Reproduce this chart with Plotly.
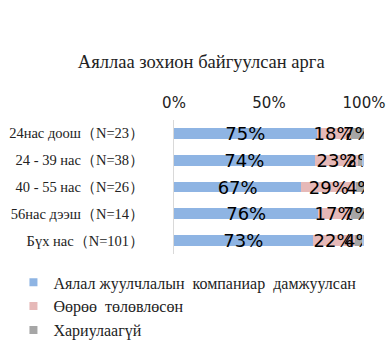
import plotly.graph_objects as go

# Age groups (top to bottom) and shares per answer
categories = ["24нас доош（N=23）", "24 - 39 нас（N=38）", "40 - 55 нас（N=26）",
              "56нас дээш（N=14）", "Бүх нас（N=101）"]
agency = [75, 74, 67, 76, 73]
self_planned = [18, 23, 29, 17, 22]
no_answer = [7, 2, 4, 7, 4]
other = [0, 1, 0.5, 0, 1]

series_names = ["Аялал жуулчлалын  компаниар  дамжуулсан", "Өөрөө  төлөвлөсөн", "Хариулаагүй"]
tick_vals = [0, 0.5, 1]
tick_text = ["0%", "50%", "100%"]

colors = ["#8EB4E3", "#E6B9B8", "#A6A6A6"]
SERIF = "Liberation Serif, Times New Roman, DejaVu Serif, serif"

fig = go.Figure()
for name, vals, col in zip(series_names, [agency, self_planned, no_answer], colors):
    fig.add_trace(go.Bar(
        y=categories, x=[v / 100 for v in vals], orientation="h", name=name,
        marker=dict(color=col, line=dict(width=0)),
        text=[f"{v}%" for v in vals], textposition="inside",
        insidetextanchor="middle", textangle=0,
        insidetextfont=dict(family="DejaVu Sans", size=18, color="black"),
        showlegend=False,
    ))
fig.add_trace(go.Bar(
    y=categories, x=[v / 100 for v in other], orientation="h",
    marker=dict(color="#A9C4E8", line=dict(width=0)),
    showlegend=False, hoverinfo="skip",
))
# Legend entries with small square keys
for name, col in zip(series_names, colors):
    fig.add_trace(go.Scatter(
        x=[None], y=[None], mode="markers", name=name,
        marker=dict(symbol="square", size=8, color=col),
    ))

fig.update_layout(
    barmode="stack", bargap=0.6,
    width=387, height=340,
    margin=dict(l=174, r=23, t=120, b=86, autoexpand=False),
    paper_bgcolor="white", plot_bgcolor="white",
    uniformtext=dict(mode="show", minsize=18),
    title=dict(text="Аяллаа зохион байгуулсан арга", x=0.52, xanchor="center",
               y=1 - 62 / 340, yanchor="middle",
               font=dict(family=SERIF, size=18.5, color="#222")),
    xaxis=dict(side="top", range=[0, 1], tickvals=tick_vals, ticktext=tick_text,
               showgrid=False, zeroline=False, showline=False, ticks="",
               tickfont=dict(family="DejaVu Sans", size=15, color="#222"),
               ticklabelstandoff=8, automargin=False),
    yaxis=dict(autorange="reversed", showgrid=False, zeroline=False,
               showline=True, linecolor="#D9D9D9", linewidth=1, ticks="",
               tickfont=dict(family=SERIF, size=14.5, color="#222"),
               ticklabelstandoff=26, automargin=False),
    legend=dict(orientation="v", x=-0.845, xanchor="left", y=-0.085, yanchor="top",
                font=dict(family=SERIF, size=16, color="#222"),
                traceorder="normal", itemwidth=30, tracegroupgap=0),
    showlegend=True,
)

fig.write_html("out.html")
